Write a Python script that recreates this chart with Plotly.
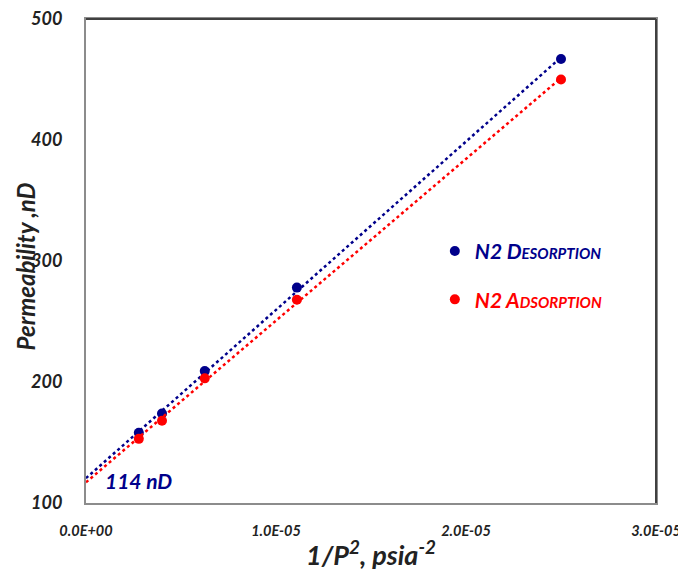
import numpy as np
import plotly.graph_objects as go

inv_p2 = [2.78e-6, 4.0e-6, 6.25e-6, 1.11e-5, 2.5e-5]
desorption = [158, 174, 209, 278, 467]
adsorption = [153, 168, 203, 268, 450]
x_ticks = [0, 1e-5, 2e-5, 3e-5]
x_tick_labels = ["0.0E+00", "1.0E-05", "2.0E-05", "3.0E-05"]
y_ticks = [100, 200, 300, 400, 500]

BLUE = "#00008B"
RED = "#FF0000"
FONT = "Lato"

fig = go.Figure()

for ys, color, name, leg in [(desorption, BLUE, "N2 Desorption", "legend"),
                             (adsorption, RED, "N2 Adsorption", "legend2")]:
    m, b = np.polyfit(inv_p2, ys, 1)
    xs = [0, max(inv_p2)]
    fig.add_trace(go.Scatter(x=xs, y=[b + m * v for v in xs], mode="lines",
                             line=dict(color=color, width=2.5, dash="dot"),
                             showlegend=False, hoverinfo="skip"))
    fig.add_trace(go.Scatter(x=inv_p2, y=ys, mode="markers", name=name,
                             marker=dict(color=color, size=10), legend=leg))

fig.add_annotation(x=0.0000009, y=119, xref="x", yref="y", text="<b><i>114 nD</i></b>",
                   showarrow=False, xanchor="left", yanchor="middle",
                   font=dict(family=FONT, size=21, color=BLUE))

# y-axis title placed as rotated text left of the tick labels
fig.add_annotation(x=-0.106, y=0.488, xref="paper", yref="paper",
                   text="<b><i>Permeability ,nD</i></b>", textangle=-90,
                   showarrow=False, xanchor="center", yanchor="middle",
                   font=dict(family=FONT, size=24, color="#222"))

# darker top/right frame edges
fig.add_shape(type="line", xref="paper", yref="paper", x0=0, x1=1, y0=1, y1=1,
              line=dict(color="#404040", width=2), layer="above")
fig.add_shape(type="line", xref="paper", yref="paper", x0=1, x1=1, y0=0, y1=1,
              line=dict(color="#404040", width=2), layer="above")

legfont = dict(family=FONT, size=21, weight="bold", style="italic", variant="small-caps")
fig.update_layout(
    width=678, height=569,
    margin=dict(l=78, r=30, t=11, b=74),
    plot_bgcolor="white", paper_bgcolor="white",
    legend=dict(x=0.612, y=0.52, xanchor="left", yanchor="middle", bgcolor="rgba(0,0,0,0)",
                font=dict(color=BLUE, **legfont), itemwidth=30),
    legend2=dict(x=0.612, y=0.42, xanchor="left", yanchor="middle", bgcolor="rgba(0,0,0,0)",
                 font=dict(color=RED, **legfont), itemwidth=30),
    xaxis=dict(range=[0, 3e-5], tickvals=x_ticks, ticktext=x_tick_labels, automargin=False,
               showgrid=False, zeroline=False, showline=True, mirror=True,
               linecolor="#8c8c8c", linewidth=2, ticks="", ticklabelstandoff=14,
               ticklabeloverflow="allow",
               tickfont=dict(family=FONT, size=14.5, color="#222", weight="bold", style="italic"),
               title=dict(text="1/P<sup>2</sup>, psia<sup>-2</sup>", standoff=8,
                          font=dict(family=FONT, size=27, color="#222", weight="bold", style="italic"))),
    yaxis=dict(range=[100, 500], tickvals=y_ticks, automargin=False,
               showgrid=False, zeroline=False, showline=True, mirror=True,
               linecolor="#8c8c8c", linewidth=2, ticks="", ticklabelstandoff=18,
               ticklabeloverflow="allow",
               tickfont=dict(family=FONT, size=18, color="#222", weight="bold", style="italic")),
)

fig.write_html("out.html")
